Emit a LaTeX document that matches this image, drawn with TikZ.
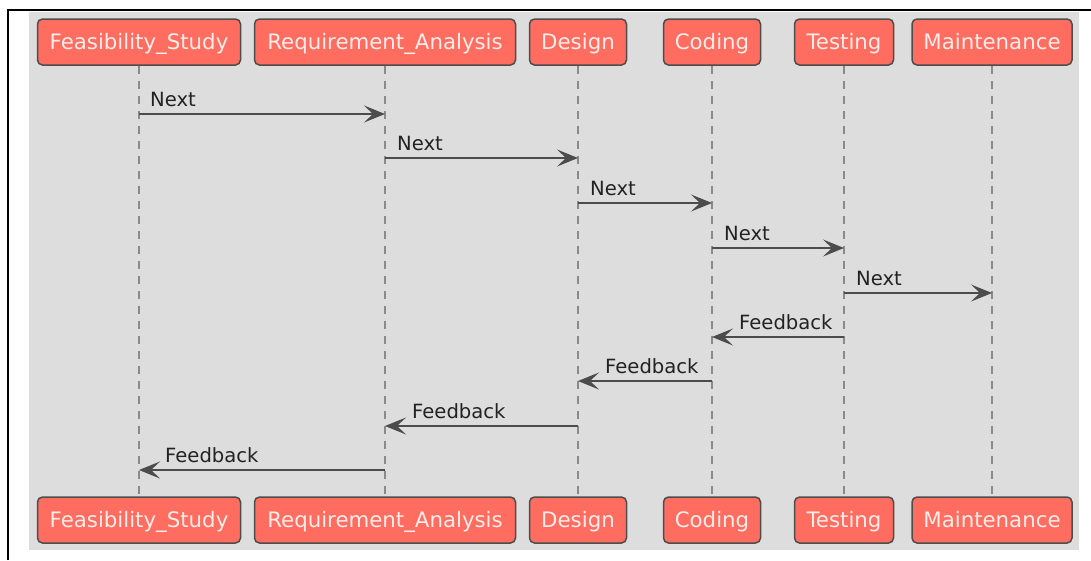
\documentclass[tikz,border=0pt]{standalone}
\usepackage{fontspec}
\setmainfont{DejaVu Sans}
\usetikzlibrary{arrows.meta}
\definecolor{panelgray}{HTML}{DDDDDD}
\definecolor{actorfill}{HTML}{FE6D5F}
\definecolor{actorline}{HTML}{4D4D4D}
\definecolor{actortext}{HTML}{FFEDEB}
\definecolor{lifegray}{HTML}{8A8A8A}
\definecolor{msgline}{HTML}{4C4C4C}
\definecolor{msgtext}{HTML}{222222}

\begin{document}
\begin{tikzpicture}[x=1pt,y=-1pt,
  actor/.style={draw=actorline, line width=1.5pt, fill=actorfill, rounded corners=5pt,
    minimum height=46pt, inner sep=0pt, text=actortext, text height=15.5pt, text depth=0pt,
    font=\fontsize{21.3}{24}\selectfont},
  life/.style={draw=lifegray, line width=1.2pt, dash pattern=on 8pt off 7pt},
  msg/.style={draw=msgline, line width=1.8pt, -{Stealth[length=21pt,width=17pt,inset=9pt]}},
  lbl/.style={anchor=base west, inner sep=0pt, text=msgtext, font=\fontsize{19.6}{22}\selectfont}]

\useasboundingbox (0,0) rectangle (1091,560);

% panel and frame
\fill[panelgray] (29,12) rectangle (1079,550);
\draw[black, line width=2pt] (8,560) -- (8,10) -- (1091,10);

% participants, top row
\node[actor, minimum width=203pt] (fs) at (139,42) {Feasibility\_Study};
\node[actor, minimum width=261pt] (ra) at (385,42) {Requirement\_Analysis};
\node[actor, minimum width=97pt]  (de) at (578,42) {Design};
\node[actor, minimum width=97pt]  (co) at (712,42) {Coding};
\node[actor, minimum width=99pt]  (te) at (844,42) {Testing};
\node[actor, minimum width=160pt] (ma) at (992,42) {Maintenance};

% participants, bottom row
\node[actor, minimum width=203pt] (fsb) at (139,520) {Feasibility\_Study};
\node[actor, minimum width=261pt] (rab) at (385,520) {Requirement\_Analysis};
\node[actor, minimum width=97pt]  (deb) at (578,520) {Design};
\node[actor, minimum width=97pt]  (cob) at (712,520) {Coding};
\node[actor, minimum width=99pt]  (teb) at (844,520) {Testing};
\node[actor, minimum width=160pt] (mab) at (992,520) {Maintenance};

% lifelines
\foreach \a in {fs,ra,de,co,te,ma}
  \draw[life] (\a.south) -- (\a b.north);

% message levels
\coordinate (y1) at (0,114);
\coordinate (y2) at (0,158);
\coordinate (y3) at (0,203);
\coordinate (y4) at (0,248);
\coordinate (y5) at (0,293);
\coordinate (y6) at (0,337);
\coordinate (y7) at (0,381);
\coordinate (y8) at (0,426);
\coordinate (y9) at (0,470);

% forward messages
\draw[msg] (fs |- y1) -- (ra |- y1);
\node[lbl] (l1) at ([xshift=11pt,yshift=7.5pt]fs |- y1) {Next};
\draw[msg] (ra |- y2) -- (de |- y2);
\node[lbl] (l2) at ([xshift=12pt,yshift=7.5pt]ra |- y2) {Next};
\draw[msg] (de |- y3) -- (co |- y3);
\node[lbl] (l3) at ([xshift=12pt,yshift=7.5pt]de |- y3) {Next};
\draw[msg] (co |- y4) -- (te |- y4);
\node[lbl] (l4) at ([xshift=12pt,yshift=7.5pt]co |- y4) {Next};
\draw[msg] (te |- y5) -- (ma |- y5);
\node[lbl] (l5) at ([xshift=12pt,yshift=7.5pt]te |- y5) {Next};

% feedback messages
\draw[msg] (te |- y6) -- (co |- y6);
\node[lbl] (l6) at ([xshift=27pt,yshift=7.5pt]co |- y6) {Feedback};
\draw[msg] (co |- y7) -- (de |- y7);
\node[lbl] (l7) at ([xshift=27pt,yshift=7.5pt]de |- y7) {Feedback};
\draw[msg] (de |- y8) -- (ra |- y8);
\node[lbl] (l8) at ([xshift=27pt,yshift=7.5pt]ra |- y8) {Feedback};
\draw[msg] (ra |- y9) -- (fs |- y9);
\node[lbl] (l9) at ([xshift=26pt,yshift=7.5pt]fs |- y9) {Feedback};

\end{tikzpicture}
\end{document}
